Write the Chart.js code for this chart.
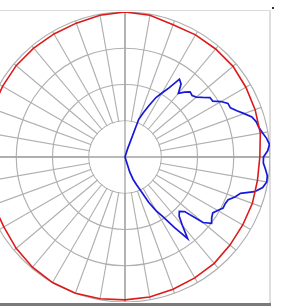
<!DOCTYPE html>
<html>
<head>
<meta charset="utf-8">
<script src="https://cdn.jsdelivr.net/npm/chart.js@4/dist/chart.umd.min.js"></script>
<style>
  html, body { margin: 0; padding: 0; background: #fff; width: 308px; height: 308px; overflow: hidden; position: relative; }
  #c { position: absolute; left: -20px; top: 12px; }
  .frameTop { position: absolute; left: 0; top: 10px; width: 270px; height: 1px; background: #dcdcdc; }
  .frameRight { position: absolute; left: 269px; top: 10px; width: 2px; height: 295px; background: #dedede; }
  .frameBottom { position: absolute; left: 0; top: 303px; width: 271px; height: 3px; background: #7a7a7a; }
  .dot { position: absolute; left: 272px; top: 7px; width: 2px; height: 2px; background: #333; }
</style>
</head>
<body>
<div class="frameTop"></div>
<div class="frameRight"></div>
<div class="frameBottom"></div>
<div class="dot"></div>
<canvas id="c" width="290" height="290"></canvas>
<script>
// Angles in degrees measured clockwise from the top, 2.5° apart (144 directions)
const angleStep = 2.5;
const angles = Array.from({length: 144}, (_, i) => i * angleStep);

// Blue pattern: radius per direction (0..40 scale), starting at the top (index 0)
const bluePattern = [
  0, 0, 0, 0, 0, 0, 0, 2.2,            // 0 .. 17.5
  11.0, 13.2, 15.7, 18.5, 20.4, 22.6, 26.2, 25.4,   // 20 .. 37.5
  22.9, 24.3, 25.4, 25.1, 25.7, 27.0, 28.6, 28.7,   // 40 .. 57.5
  30.6, 32.0, 32.1, 33.4, 35.0, 36.7, 37.5, 37.8,   // 60 .. 77.5
  38.5, 39.4, 40.0, 39.4, 38.2, 38.2, 38.9, 39.6,   // 80 .. 97.5
  39.7, 38.9, 37.0, 33.4, 32.3, 30.8, 30.5, 30.5,   // 100 .. 117.5
  29.5, 28.7, 29.2, 30.1, 28.1, 22.3, 21.2, 22.1,   // 120 .. 137.5
  24.6, 28.4, 23.7, 19.6, 17.1, 14.1, 10.2, 8.3,    // 140 .. 157.5
  6.6, 4.4, 0, 0, 0, 0, 0, 0,                       // 160 .. 177.5
  0, 0, 0, 0, 0, 0, 0, 0,
  0, 0, 0, 0, 0, 0, 0, 0,
  0, 0, 0, 0, 0, 0, 0, 0,
  0, 0, 0, 0, 0, 0, 0, 0,
  0, 0, 0, 0, 0, 0, 0, 0,
  0, 0, 0, 0, 0, 0, 0, 0,
  0, 0, 0, 0, 0, 0, 0, 0,
  0, 0, 0, 0, 0, 0, 0, 0,
  0, 0, 0, 0, 0, 0, 0, 0
];

// Red reference pattern: read every 10° (from the top, clockwise); gaps between are spanned
const redPattern10 = [
  40.0, 39.7, 38.8, 38.9, 38.9, 38.9, 38.5, 38.2, 37.9,   // 0 .. 80
  37.2, 37.1, 37.4, 37.5, 37.8, 38.3, 38.5, 38.8, 39.2,   // 90 .. 170
  39.4, 39.7, 40.0, 40.0, 39.7, 39.2, 38.6, 38.6, 38.9,   // 180 .. 260
  38.9, 38.9, 38.9, 39.0, 39.2, 39.2, 39.2, 39.3, 39.7    // 270 .. 350
];

const ringTicks = [10, 20, 30, 40];

const redPattern = angles.map((a, i) => (i % 4 === 0 ? redPattern10[i / 4] : null));

const innerBlank = {
  id: 'innerBlank',
  beforeDatasetsDraw(chart) {
    const s = chart.scales.r;
    const ctx = chart.ctx;
    const r1 = s.getDistanceFromCenterForValue(ringTicks[0]);
    const R = s.getDistanceFromCenterForValue(ringTicks[ringTicks.length - 1]);
    ctx.save();
    ctx.fillStyle = '#ffffff';
    ctx.beginPath();
    ctx.arc(s.xCenter, s.yCenter, r1 - 0.6, 0, Math.PI * 2);
    ctx.fill();
    ctx.strokeStyle = '#a2a2a2';
    ctx.lineWidth = 1.3;
    [[0, 72], [36, 108]].forEach(([a, b]) => {
      const p = s.getPointPosition(a, R);
      const q = s.getPointPosition(b, R);
      ctx.beginPath();
      ctx.moveTo(p.x, p.y);
      ctx.lineTo(q.x, q.y);
      ctx.stroke();
    });
    ctx.restore();
  }
};

new Chart(document.getElementById('c'), {
  type: 'radar',
  data: {
    labels: angles.map(a => a + '°'),
    datasets: [
      {
        data: redPattern,
        borderColor: '#dc1a1a',
        borderWidth: 1.6,
        pointRadius: 0,
        fill: false,
        spanGaps: true,
        tension: 0
      },
      {
        data: bluePattern,
        borderColor: '#1818d8',
        borderWidth: 1.7,
        pointRadius: 0,
        fill: false,
        tension: 0
      }
    ]
  },
  options: {
    responsive: false,
    animation: false,
    events: [],
    plugins: { legend: { display: false }, tooltip: { enabled: false } },
    layout: { padding: 0 },
    scales: {
      r: {
        min: 0,
        max: 40,
        ticks: { display: false, stepSize: 10 },
        pointLabels: { display: false },
        grid: { circular: true, color: '#b0b0b0', lineWidth: 1.15 },
        angleLines: {
          display: true,
          color: '#b0b0b0',
          lineWidth: (ctx) => (ctx.index % 4 === 0 ? 1.15 : 0)
        }
      }
    }
  },
  plugins: [innerBlank]
});
</script>
</body>
</html>
